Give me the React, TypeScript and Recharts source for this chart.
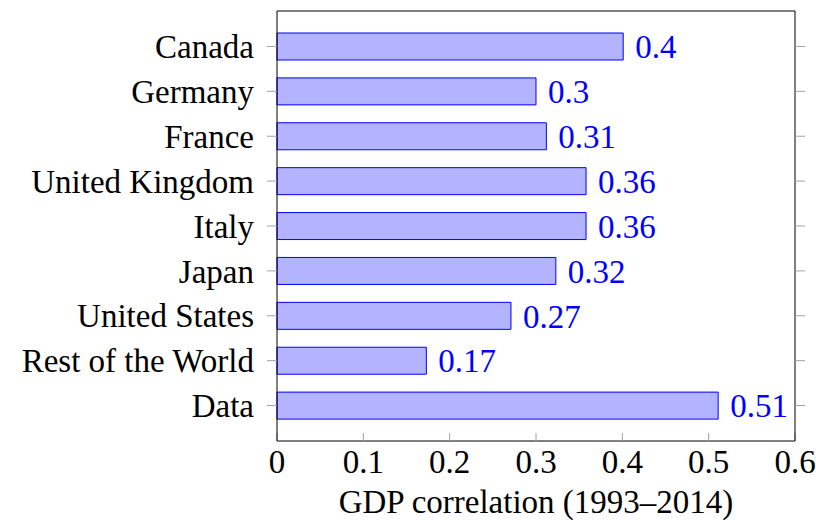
import React from 'react';
import { BarChart, Bar, XAxis, YAxis, LabelList } from 'recharts';

const countries = [
  'Canada',
  'Germany',
  'France',
  'United Kingdom',
  'Italy',
  'Japan',
  'United States',
  'Rest of the World',
  'Data',
];
const correlations = [0.401, 0.3, 0.312, 0.358, 0.358, 0.323, 0.271, 0.173, 0.511];
const xTicks = [0, 0.1, 0.2, 0.3, 0.4, 0.5, 0.6];

const data = countries.map((name, i) => ({ name, value: correlations[i] }));

const FONT = '"Liberation Serif", "Times New Roman", serif';
const FS = 33;
const TICK_GRAY = '#a0a0a0';

const fmt = (v: any) => String(parseFloat(Number(v).toFixed(2)));

const App: React.FC = () => {
  return (
    <div
      style={{
        position: 'absolute',
        left: 0,
        top: 0,
        width: 816,
        height: 520,
        fontFamily: FONT,
      }}
    >
      <BarChart
        width={816}
        height={520}
        data={data}
        layout="vertical"
        margin={{ top: 10, right: 9, bottom: 0, left: 0 }}
      >
        <XAxis
          type="number"
          domain={[0, 0.6]}
          ticks={xTicks}
          tickFormatter={(v) => String(v)}
          height={79}
          axisLine={{ stroke: '#000' }}
          tickLine={{ stroke: TICK_GRAY }}
          tickSize={-8}
          tickMargin={17}
          tick={{ fill: '#000', fontSize: FS, fontFamily: FONT }}
          label={{
            value: 'GDP correlation (1993–2014)',
            position: 'insideBottom',
            offset: 7,
            fill: '#000',
            fontSize: FS,
            fontFamily: FONT,
          }}
        />
        <XAxis
          xAxisId="top"
          orientation="top"
          type="number"
          domain={[0, 0.6]}
          ticks={xTicks}
          height={1}
          axisLine={{ stroke: '#000' }}
          tickLine={{ stroke: TICK_GRAY }}
          tickSize={-8}
          tickFormatter={() => ''}
        />
        <YAxis
          type="category"
          dataKey="name"
          width={277}
          padding={{ top: 13, bottom: 13 }}
          axisLine={{ stroke: '#000' }}
          tickLine={{ stroke: TICK_GRAY }}
          tickSize={10}
          tickMargin={13}
          interval={0}
          tick={{ fill: '#000', fontSize: FS, fontFamily: FONT }}
        />
        <YAxis
          yAxisId="right"
          orientation="right"
          type="category"
          dataKey="name"
          width={12}
          padding={{ top: 13, bottom: 13 }}
          axisLine={{ stroke: '#000' }}
          tickLine={{ stroke: TICK_GRAY }}
          tickSize={10}
          interval={0}
          tickFormatter={() => ''}
        />
        <Bar
          dataKey="value"
          fill="#b3b3ff"
          stroke="#0000ff"
          strokeWidth={1}
          barSize={27}
          isAnimationActive={false}
        >
          <LabelList
            dataKey="value"
            position="right"
            offset={12}
            formatter={fmt}
            fill="#0000ff"
            fontSize={FS}
            fontFamily={FONT}
          />
        </Bar>
      </BarChart>
    </div>
  );
};

export default App;
